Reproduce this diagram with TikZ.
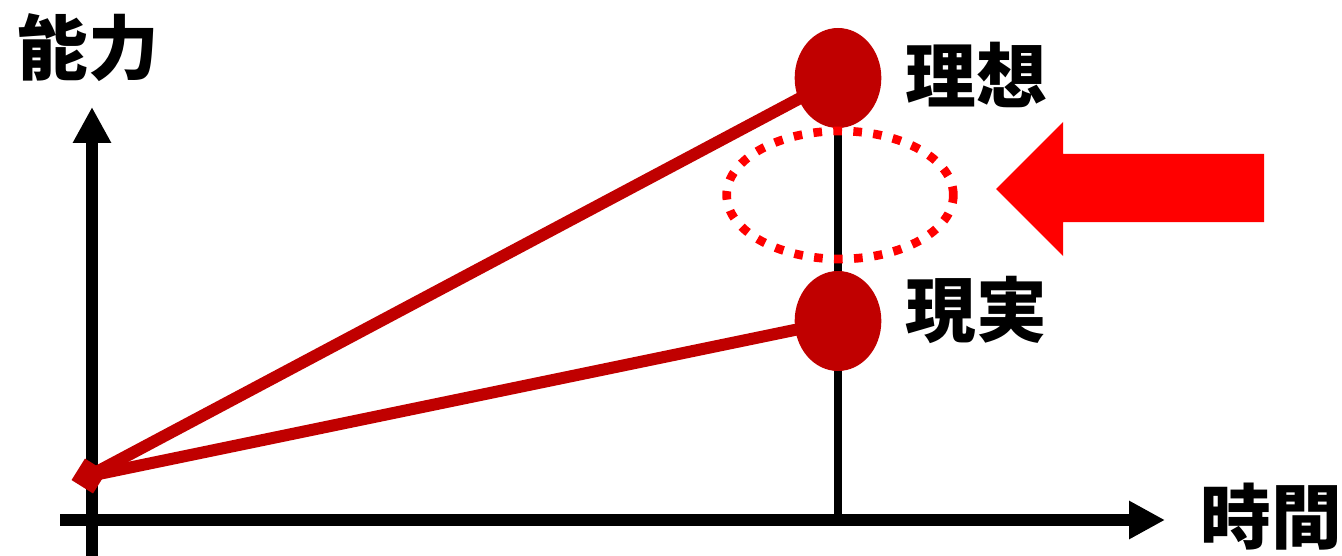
\documentclass[tikz,border=0pt]{standalone}
\usepackage{fontspec}
\setmainfont{Noto Sans CJK JP}
\usetikzlibrary{arrows.meta,shapes.geometric}
\definecolor{dred}{HTML}{C00000}
\definecolor{bred}{HTML}{FF0000}
\tikzset{
  axis/.style={line width=9pt,-{Triangle[width=27pt,length=27pt]}},
  growth/.style={line width=9pt,dred},
  dot/.style={ellipse,fill=dred,minimum width=65pt,minimum height=75pt,inner sep=0pt},
  lbl/.style={font=\fontsize{53}{60}\selectfont\bfseries,inner sep=0pt},
  gap/.style={ellipse,draw=bred,line width=6.5pt,dash pattern=on 6.5pt off 8.5pt,minimum width=170pt,minimum height=96pt,inner sep=0pt},
}
\begin{document}
\begin{tikzpicture}[x=0.75pt,y=-0.75pt]
\useasboundingbox (0,0) rectangle (1342,556);
% axes
\coordinate (ybot) at (92,556);
\coordinate (ytop) at (92,107);
\coordinate (xl) at (60,520);
\coordinate (xr) at (1165,520);
\draw[axis] (ybot) -- (ytop);
\draw[axis] (xl) -- (xr);
% points
\coordinate (o) at (89,476);
\coordinate (ic) at (838,78);
\coordinate (rc) at (838,321);
\coordinate (tbase) at (838,520);
\draw[line width=6pt] (ic) -- (tbase);
\draw[growth] (o) -- (ic);
\draw[growth] (o) -- (rc);
\node[fill=dred,minimum size=19pt,inner sep=0pt,rotate=-32] (orig) at (o) {};
\node[dot] (ideal) at (ic) {};
\node[dot] (real) at (rc) {};
\node[gap] (gapring) at (840,195) {};
% big arrow
\fill[bred] (996,189) -- (1063,122) -- (1063,154) -- (1264,154) -- (1264,222) -- (1063,222) -- (1063,256) -- cycle;
% labels
\node[lbl] (lcap) at (88,48) {能力};
\node[lbl] (lideal) at (976,75) {理想};
\node[lbl] (lreal) at (976,310) {現実};
\node[lbl] (ltime) at (1271,517) {時間};
\end{tikzpicture}
\end{document}
